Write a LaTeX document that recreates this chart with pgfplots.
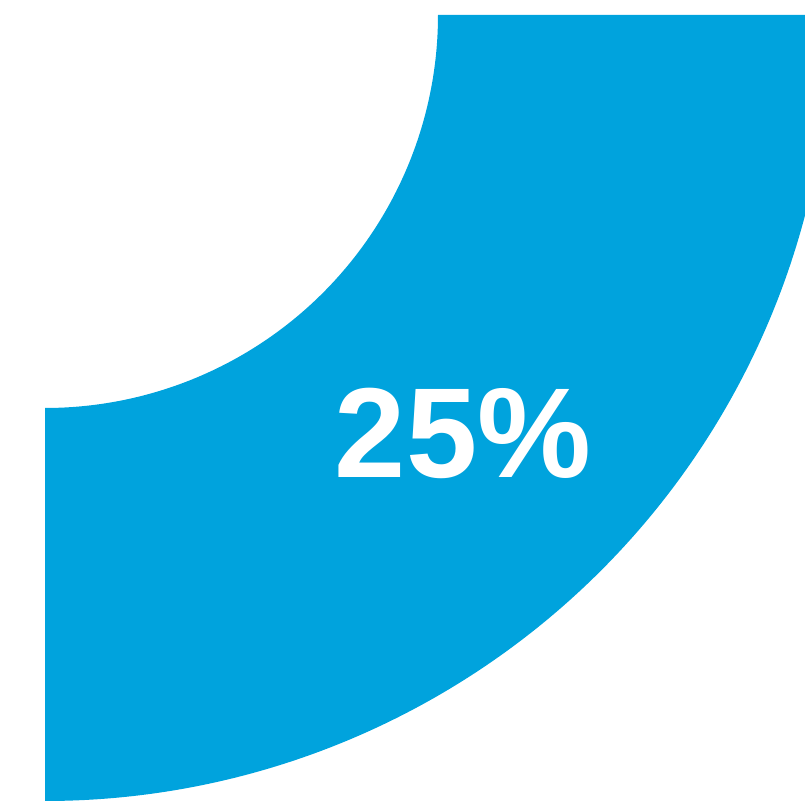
\documentclass[border=0pt]{standalone}
\usepackage{pgfplots}
\pgfplotsset{compat=1.18}
\usepackage{fontspec}
\setmainfont{Liberation Sans}
\definecolor{slice}{HTML}{00A3DD}

% share of the whole shown by the slice
\def\share{25}

\begin{document}
\begin{tikzpicture}
\begin{axis}[
    scale only axis,
    width=402.5pt, height=401.5pt,
    xmin=-45, xmax=760,
    ymin=-788, ymax=15,
    axis lines=none,
    clip=true,
]
    % donut slice: outer radius 786, inner radius 393 (0.5pt per unit)
    \pgfmathsetmacro{\ang}{\share*3.6}
    \fill[slice] (axis cs:0,-786)
        arc[start angle=-90, delta angle=\ang, radius=393pt]
        -- (axis cs:393,0)
        arc[start angle=0, delta angle=-\ang, radius=196.5pt]
        -- cycle;
    \node[text=white, font=\bfseries\fontsize{64}{64}\selectfont]
        at (axis cs:418,-418) {\share\%};
\end{axis}
\pgfresetboundingbox
\path[use as bounding box] (current axis.south west) rectangle (current axis.north east);
\end{tikzpicture}
\end{document}
